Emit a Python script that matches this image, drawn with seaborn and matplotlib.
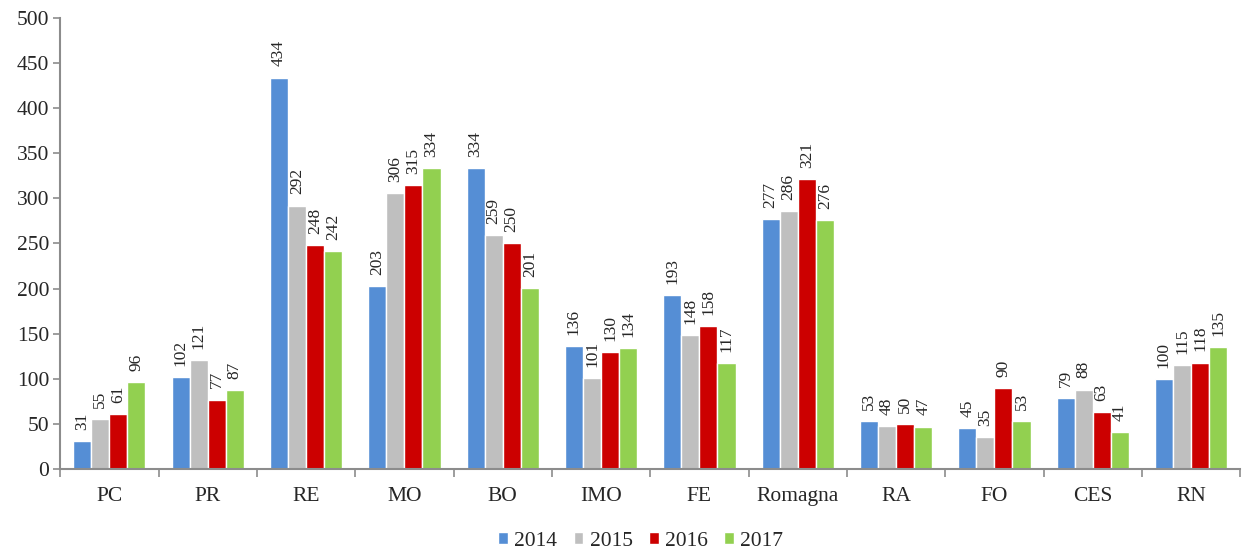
import matplotlib.pyplot as plt
import numpy as np
import pandas as pd
import seaborn as sns

# Data
provinces = ["PC", "PR", "RE", "MO", "BO", "IMO", "FE", "Romagna", "RA", "FO", "CES", "RN"]
years = ["2014", "2015", "2016", "2017"]
v2014 = [31, 102, 434, 203, 334, 136, 193, 277, 53, 45, 79, 100]
v2015 = [55, 121, 292, 306, 259, 101, 148, 286, 48, 35, 88, 115]
v2016 = [61, 77, 248, 315, 250, 130, 158, 321, 50, 90, 63, 118]
v2017 = [96, 87, 242, 334, 201, 134, 117, 276, 47, 53, 41, 135]
colors = ["#558ED5", "#BFBFBF", "#CC0000", "#92D050"]

rows = []
for year, vals in zip(years, [v2014, v2015, v2016, v2017]):
    for p, v in zip(provinces, vals):
        rows.append({"Provincia": p, "Anno": year, "Valore": v})
df = pd.DataFrame(rows)

sns.set_style("white")
plt.rcParams["font.family"] = ["Liberation Serif", "TeX Gyre Termes", "DejaVu Serif"]

fig = plt.figure(figsize=(12.54, 5.54), dpi=100)
ax = fig.add_axes([0.048, 0.1535, 0.941, 0.814])

sns.barplot(
    data=df,
    x="Provincia",
    y="Valore",
    hue="Anno",
    order=provinces,
    hue_order=years,
    palette=colors,
    width=0.735,
    saturation=1,
    ax=ax,
)

# Value labels
for container in ax.containers:
    ax.bar_label(container, rotation=90, padding=8, fontsize=12.5)

ax.set_ylim(0, 500)
ax.set_yticks(np.arange(0, 501, 50))
ax.set_xlim(-0.5, len(provinces) - 0.5)
ax.set_xlabel("")
ax.set_ylabel("")

# Spines / ticks
for side in ["top", "right"]:
    ax.spines[side].set_visible(False)
for side in ["left", "bottom"]:
    ax.spines[side].set_color("#8C8C8C")
    ax.spines[side].set_linewidth(1.5)

ax.tick_params(axis="y", which="major", length=5, color="#8C8C8C", width=1.2,
               labelsize=15.5, left=True, pad=3)
ax.tick_params(axis="x", which="major", length=0, labelsize=15.5, pad=13)
ax.set_xticks(np.arange(-0.5, len(provinces)), minor=True)
ax.tick_params(axis="x", which="minor", length=6, color="#8C8C8C", width=1.2, bottom=True)

ax.legend(
    loc="center",
    bbox_to_anchor=(0.492, -0.16),
    ncol=4,
    frameon=False,
    fontsize=15.5,
    handlelength=0.45,
    handleheight=0.45,
    handletextpad=0.3,
    columnspacing=0.75,
)

plt.savefig("out.png", dpi=100)
plt.close()
